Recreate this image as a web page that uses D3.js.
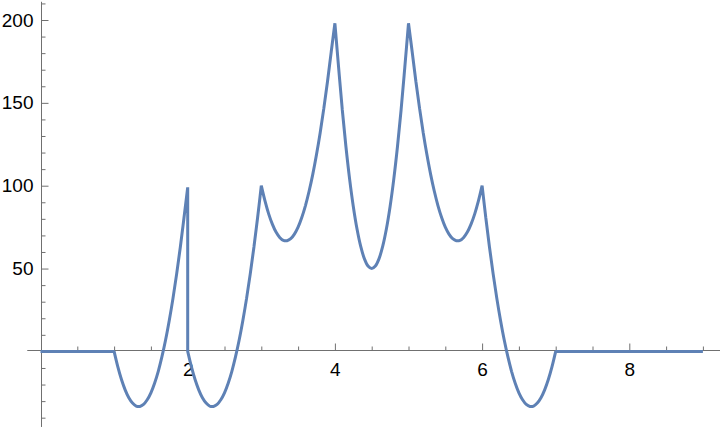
<!DOCTYPE html>
<html>
<head>
<meta charset="utf-8">
<script src="https://cdn.jsdelivr.net/npm/d3@7"></script>
<style>
  html, body { margin: 0; padding: 0; background: #fff; }
  svg { display: block; }
</style>
</head>
<body>
<svg id="chart" width="720" height="430"></svg>
<script>
// ---- data ----
// fractional positions inside each unit interval at which values were read
const stepT = [0,0.05,0.1,0.15,0.2,0.25,0.3,0.35,0.4,0.45,0.5,0.55,0.6,0.65,0.7,0.75,0.8,0.85,0.9,0.95,1];
const flatLeftY  = [0, 0];                       // x in [0,1]
const rise1Y     = [0,-9.2,-17,-23.2,-28,-31.2,-33,-33.2,-32,-29.2,-25,-19.2,-12,-3.2,7,18.8,32,46.8,63,80.8,99];   // x in [1,2]
const rise2Y     = [0,-9.2,-17,-23.2,-28,-31.2,-33,-33.2,-32,-29.2,-25,-19.2,-12,-3.2,7,18.8,32,46.8,63,80.8,100];  // x in [2,3]
const shoulderUpY   = [100,90.8,83,76.8,72,68.8,67,66.8,68,70.8,75,80.8,88,96.8,107,118.8,132,146.8,163,180.8,198]; // x in [3,4]
const valleyY       = [198,171.5,146,123.5,104,87.5,74,63.5,56,51.5,50,51.5,56,63.5,74,87.5,104,123.5,146,171.5,198]; // x in [4,5]
const shoulderDownY = [198,180.8,163,146.8,132,118.8,107,96.8,88,80.8,75,70.8,68,66.8,67,68.8,72,76.8,83,90.8,100]; // x in [5,6]
const fallY      = [100,80.8,63,46.8,32,18.8,7,-3.2,-12,-19.2,-25,-29.2,-32,-33.2,-33,-31.2,-28,-23.2,-17,-9.2,0];  // x in [6,7]
const flatRightY = [0, 0];                       // x in [7,9]

const pieceStart = [0, 1, 2, 3, 4, 5, 6, 7];
const pieceWidth = [1, 1, 1, 1, 1, 1, 1, 2];
const pieceY = [flatLeftY, rise1Y, rise2Y, shoulderUpY, valleyY, shoulderDownY, fallY, flatRightY];

const xMajorTicks = [2, 4, 6, 8];
const xMinorTicks = [0.5, 1, 1.5, 2.5, 3, 3.5, 4.5, 5, 5.5, 6.5, 7, 7.5, 8.5, 9];
const yMajorTicks = [50, 100, 150, 200];
const yMinorTicks = [-40, -30, -20, -10, 10, 20, 30, 40, 60, 70, 80, 90, 110, 120, 130, 140, 160, 170, 180, 190, 210];
const xAxisExtent = [-0.18, 9.25];
const yAxisExtent = [-45.6, 211];

// ---- drawing ----
const svg = d3.select("#chart");
const x = d3.scaleLinear().domain([0, 9]).range([40.5, 702.9]);
const y = d3.scaleLinear().domain([0, 200]).range([351.4, 20]);

const axisColor = "#707070";
const font = "'Liberation Sans', Arial, Helvetica, sans-serif";
const x0px = Math.round(x(0)) + 0.5;
const y0px = Math.round(y(0)) - 0.5;

// x axis
const gx = svg.append("g").attr("transform", `translate(0,${y0px})`);
gx.append("line")
  .attr("x1", x(xAxisExtent[0])).attr("x2", x(xAxisExtent[1]))
  .attr("stroke", axisColor).attr("stroke-width", 1);
gx.append("g").call(d3.axisBottom(x).tickValues(xMinorTicks).tickSize(-4).tickFormat(""))
  .call(g => g.select(".domain").remove());
gx.append("g").call(d3.axisBottom(x).tickValues(xMajorTicks).tickSize(-7).tickPadding(12).tickFormat(d3.format("d")))
  .call(g => g.select(".domain").remove());
gx.selectAll(".tick line").attr("stroke", axisColor);
gx.selectAll(".tick text").attr("fill", "#000").style("font-family", font).style("font-size", "19px");

// y axis
const gy = svg.append("g").attr("transform", `translate(${x0px},0)`);
gy.append("line")
  .attr("y1", y(yAxisExtent[0])).attr("y2", y(yAxisExtent[1]))
  .attr("stroke", axisColor).attr("stroke-width", 1);
gy.append("g").call(d3.axisLeft(y).tickValues(yMinorTicks).tickSize(-4).tickFormat(""))
  .call(g => g.select(".domain").remove());
gy.append("g").call(d3.axisLeft(y).tickValues(yMajorTicks).tickSize(-7).tickPadding(8).tickFormat(d3.format("d")))
  .call(g => g.select(".domain").remove());
gy.selectAll(".tick line").attr("stroke", axisColor);
gy.selectAll(".tick text").attr("fill", "#000").style("font-family", font).style("font-size", "19px");

// curve: smooth inside each piece, sharp at the joins
const line = d3.line().x(d => x(d[0])).y(d => y(d[1])).curve(d3.curveCatmullRom.alpha(0.5));
let pathD = "";
pieceY.forEach((ys, i) => {
  const n = ys.length;
  const pts = ys.map((v, j) => [pieceStart[i] + pieceWidth[i] * (n === 2 ? j : stepT[j]), v]);
  let seg = line(pts);
  if (i > 0) seg = "L" + seg.slice(1);
  pathD += seg;
});
svg.append("path")
  .attr("d", pathD)
  .attr("fill", "none")
  .attr("stroke", "#5E81B5")
  .attr("stroke-width", 3)
  .attr("stroke-linejoin", "bevel")
  .attr("stroke-linecap", "butt");
</script>
</body>
</html>
